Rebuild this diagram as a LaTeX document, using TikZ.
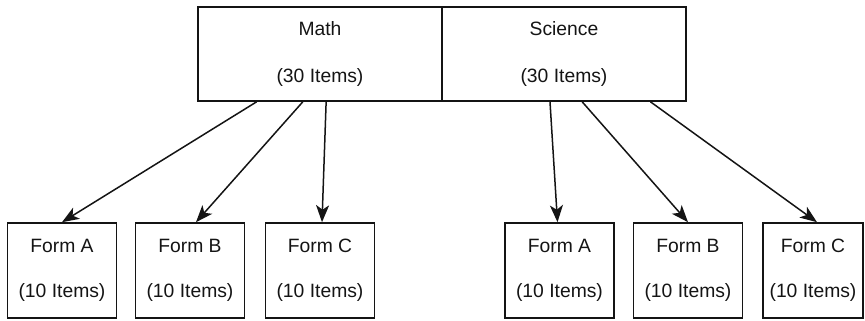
\documentclass[tikz,border=0pt]{standalone}
\usepackage{fontspec}
\setmainfont{Liberation Sans}
\usetikzlibrary{arrows.meta,calc}
\definecolor{inkblack}{RGB}{20,20,20}
\tikzset{
  pool-node/.style={draw=inkblack, line width=1.6pt, minimum width=244pt,
    minimum height=94pt, inner sep=0pt, align=center,
    font=\fontsize{19.3}{47}\selectfont, text=inkblack},
  form-node/.style={draw=inkblack, line width=1.6pt, minimum width=109pt,
    minimum height=95pt, inner sep=0pt, align=center,
    font=\fontsize{19.3}{45}\selectfont, text=inkblack},
  split-arrow/.style={-{Stealth[length=17pt, width=13pt, inset=4.5pt]},
    line width=1.5pt, draw=inkblack}
}
\begin{document}
\begin{tikzpicture}[x=1pt, y=-1pt]
\useasboundingbox (0,0) rectangle (865,321);
% item pools
\node[pool-node] (math) at (320,54) {Math\\(30 Items)};
\node[pool-node] (science) at (564,54) {Science\\(30 Items)};
% math forms
\node[form-node] (mathA) at (62,270.5) {Form A\\(10 Items)};
\node[form-node] (mathB) at (190,270.5) {Form B\\(10 Items)};
\node[form-node] (mathC) at (320,270.5) {Form C\\(10 Items)};
% science forms
\node[form-node] (sciA) at (559.5,270.5) {Form A\\(10 Items)};
\node[form-node] (sciB) at (688,270.5) {Form B\\(10 Items)};
\node[form-node, minimum width=100pt] (sciC) at (813,270.5) {Form C\\(10 Items)};
% splits
\draw[split-arrow] ($(math.south west)!0.242!(math.south east)$) -- (mathA.north);
\draw[split-arrow] ($(math.south west)!0.430!(math.south east)$) -- ([xshift=6pt]mathB.north);
\draw[split-arrow] ($(math.south west)!0.525!(math.south east)$) -- ([xshift=2pt]mathC.north);
\draw[split-arrow] ($(science.south west)!0.443!(science.south east)$) -- ([xshift=-2pt]sciA.north);
\draw[split-arrow] ($(science.south west)!0.574!(science.south east)$) -- (sciB.north);
\draw[split-arrow] ($(science.south west)!0.852!(science.south east)$) -- ([xshift=4pt]sciC.north);
\end{tikzpicture}
\end{document}
